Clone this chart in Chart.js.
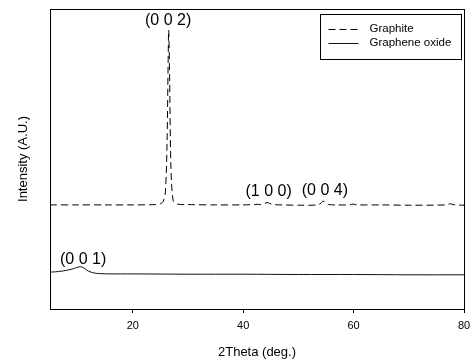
<!DOCTYPE html>
<html><head><meta charset="utf-8">
<script src="https://cdn.jsdelivr.net/npm/chart.js@4/dist/chart.umd.min.js"></script>
<style>html,body{margin:0;padding:0;background:#fff}#wrap{width:471px;height:360px}</style>
</head><body><div id="wrap"><canvas id="c" width="471" height="360"></canvas></div>
<script>
const seriesNames = ['Graphite', 'Graphene oxide'];
const graphiteX = [5, 10, 15, 20, 24, 25, 25.5, 25.9, 26.2, 26.4, 26.5, 26.65, 26.9, 27.3, 28, 30, 35, 40, 42, 42.5, 43, 43.8, 44.3, 44.8, 45.5, 47, 50, 53.5, 54.1, 54.5, 54.9, 55.5, 57, 59.3, 59.9, 60.5, 65, 70, 76.8, 77.5, 78.2, 80];
const graphiteY = [34.7, 34.7, 34.7, 34.7, 34.8, 35.1, 35.8, 39, 55, 82, 93, 80, 48, 36.2, 35.0, 34.8, 34.7, 34.7, 34.8, 34.9, 34.8, 35.0, 35.5, 35.2, 34.8, 34.7, 34.6, 34.7, 35.3, 36.0, 35.3, 34.8, 34.7, 34.7, 35.0, 34.7, 34.7, 34.6, 34.7, 35.1, 34.7, 34.6];
const goX = [5, 6, 7, 8, 9, 9.8, 10.5, 11.2, 12, 13, 14, 16, 20, 30, 40, 50, 60, 70, 80];
const goY = [12.3, 12.4, 12.6, 12.9, 13.3, 13.8, 14.1, 13.6, 12.6, 12.0, 11.8, 11.7, 11.7, 11.6, 11.6, 11.5, 11.5, 11.4, 11.4];
const xTickValues = [20, 40, 60, 80];
const peakLabels = ['(0 0 2)', '(1 0 0)', '(0 0 4)', '(0 0 1)'];
const peakLabelX = [26.4, 44.6, 54.8, 11.0];
const peakLabelY = [96.3, 39.0, 39.4, 16.5];

const toPts = (xs, ys) => xs.map((x, i) => ({x, y: ys[i]}));

const frameAndLabels = {
  id: 'frameAndLabels',
  afterDatasetsDraw(chart) {
    const {ctx, chartArea: a, scales: {x, y}} = chart;
    ctx.save();
    ctx.strokeStyle = '#000';
    ctx.lineWidth = 1;
    ctx.strokeRect(Math.round(a.left) + 0.5, Math.round(a.top) + 0.5, Math.round(a.right - a.left), Math.round(a.bottom - a.top));
    ctx.fillStyle = '#000';
    ctx.font = '16px "Liberation Sans", Arial, sans-serif';
    ctx.textAlign = 'center';
    ctx.textBaseline = 'middle';
    peakLabels.forEach((t, i) => ctx.fillText(t, x.getPixelForValue(peakLabelX[i]), y.getPixelForValue(peakLabelY[i])));
    // legend box
    const bx = 320.5, by = 14.5, bw = 141, bh = 45;
    ctx.strokeRect(bx, by, bw, bh);
    ctx.font = '11.5px "Liberation Sans", Arial, sans-serif';
    ctx.textAlign = 'left';
    chart.data.datasets.forEach((ds, i) => {
      const yy = by + 14.5 + i * 14;
      ctx.beginPath();
      ctx.setLineDash(ds.borderDash || []);
      ctx.strokeStyle = ds.borderColor;
      ctx.moveTo(bx + 8, Math.round(yy) + 0.5);
      ctx.lineTo(bx + 38, Math.round(yy) + 0.5);
      ctx.stroke();
      ctx.setLineDash([]);
      ctx.fillText(ds.label, bx + 49, yy);
    });
    ctx.restore();
  }
};

new Chart(document.getElementById('c'), {
  type: 'line',
  data: {
    datasets: [
      {label: seriesNames[0], data: toPts(graphiteX, graphiteY), borderColor: '#000', borderWidth: 1, borderDash: [7, 4], pointRadius: 0, tension: 0.3, fill: false},
      {label: seriesNames[1], data: toPts(goX, goY), borderColor: '#111', borderWidth: 1, pointRadius: 0, tension: 0.3, fill: false}
    ]
  },
  options: {
    responsive: false,
    animation: false,
    layout: {padding: {left: 0, right: 7, top: 9, bottom: 0}},
    plugins: {legend: {display: false}, tooltip: {enabled: false}},
    scales: {
      x: {
        type: 'linear', min: 5, max: 80,
        afterBuildTicks: s => { s.ticks = xTickValues.map(v => ({value: v})); },
        afterFit: s => { s.height = 51; s.paddingRight = 0; s.paddingLeft = 0; },
        grid: {drawOnChartArea: false, drawTicks: true, tickLength: 4, color: '#000'},
        border: {display: true, color: '#000'},
        ticks: {color: '#000', font: {family: '"Liberation Sans", Arial, sans-serif', size: 11}, padding: 6, maxRotation: 0},
        title: {display: true, text: '2Theta (deg.)', color: '#000', font: {family: '"Liberation Sans", Arial, sans-serif', size: 13}, padding: {top: 0, bottom: 0}}
      },
      y: {
        min: 0, max: 100,
        afterFit: s => { s.width = 50; s.paddingTop = 0; s.paddingBottom = 0; },
        grid: {display: false},
        border: {display: true, color: '#000'},
        ticks: {display: false},
        title: {display: true, text: 'Intensity (A.U.)', color: '#000', font: {family: '"Liberation Sans", Arial, sans-serif', size: 13}, padding: {top: 16, bottom: 0}}
      }
    }
  },
  plugins: [frameAndLabels]
});
</script>
</body></html>
